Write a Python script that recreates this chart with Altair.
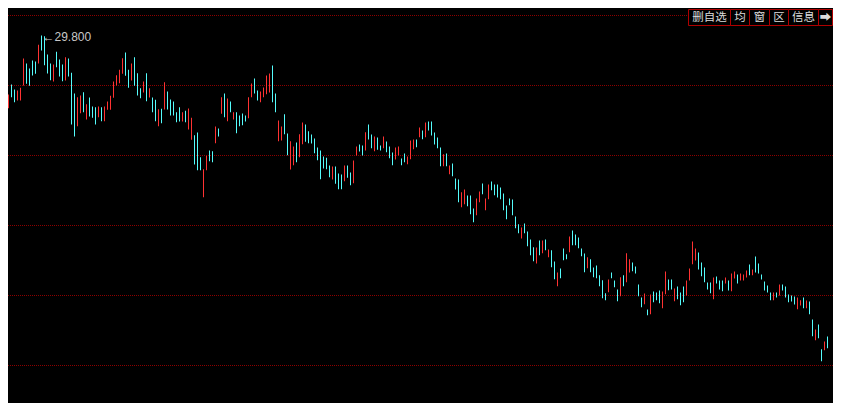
import altair as alt
import pandas as pd

# ---- candle data ----
high = [
    26.37, 26.51, 27.44, 27.84, 27.64, 27.60, 27.71, 28.88, 28.68, 28.48,
    28.80, 28.76, 29.43, 29.80, 29.77, 29.04, 28.68, 28.64, 29.15, 28.84,
    28.64, 28.93, 28.88, 28.31, 27.48, 27.33, 27.40, 27.53, 27.05, 27.32,
    26.96, 26.93, 26.96, 26.93, 26.96, 27.16, 27.39, 27.96, 28.21, 28.43,
    28.89, 29.12, 28.43, 28.68, 28.93, 28.29, 27.69, 27.96, 28.29, 27.69,
    27.32, 27.23, 26.85, 26.87, 27.93, 27.56, 27.24, 27.16, 26.73, 26.93,
    26.73, 26.79, 26.88, 26.51, 25.81, 25.92, 24.93, 24.45, 24.99, 25.20,
    25.17, 26.16, 26.08, 27.33, 27.48, 27.28, 27.16, 26.73, 26.73, 26.60,
    26.68, 26.60, 27.33, 27.88, 28.08, 27.60, 27.56, 27.72, 28.20, 28.28,
    28.60, 27.48, 26.40, 26.16, 26.65, 25.88, 25.57, 25.36, 25.52, 25.85,
    26.32, 26.24, 25.97, 25.84, 25.68, 25.32, 25.20, 24.96, 24.91, 24.60,
    24.56, 24.56, 24.28, 24.24, 24.60, 24.60, 24.32, 24.80, 25.36, 25.44,
    25.40, 25.93, 26.24, 25.84, 25.76, 25.72, 25.40, 25.76, 25.56, 25.36,
    25.12, 25.32, 25.36, 24.88, 25.08, 24.96, 25.60, 25.64, 25.64, 26.12,
    26.00, 26.32, 26.36, 26.36, 25.92, 25.72, 25.32, 25.05, 25.08, 24.60,
    24.68, 24.08, 24.04, 23.53, 23.64, 23.40, 23.40, 22.88, 23.28, 23.56,
    23.88, 23.28, 23.84, 23.96, 23.84, 23.84, 23.72, 23.48, 23.00, 23.28,
    23.24, 22.56, 22.25, 22.12, 22.28, 21.96, 21.64, 21.33, 21.32, 21.60,
    21.60, 21.64, 21.24, 21.21, 20.76, 20.32, 20.48, 21.28, 21.05, 21.76,
    22.00, 21.84, 21.72, 21.28, 21.08, 20.93, 20.85, 20.52, 20.60, 20.21,
    20.01, 19.49, 20.04, 20.32, 20.00, 19.64, 20.13, 20.21, 21.09, 20.85,
    20.72, 20.56, 19.84, 19.32, 19.48, 18.84, 19.44, 19.56, 19.52, 19.60,
    19.56, 20.36, 20.04, 20.04, 19.68, 19.76, 19.52, 19.76, 20.00, 20.48,
    21.56, 21.28, 21.12, 20.72, 20.52, 19.92, 19.92, 20.12, 20.16, 20.00,
    20.00, 20.12, 20.00, 20.28, 20.36, 20.24, 20.28, 20.24, 20.40, 20.64,
    20.44, 20.96, 20.68, 20.24, 19.96, 19.80, 19.52, 19.52, 19.52, 19.84,
    19.84, 19.76, 19.44, 19.40, 19.36, 19.32, 19.21, 19.32, 19.20, 19.16,
    18.44, 18.04, 18.24, 17.25, 17.56, 17.76,
]

low = [
    25.76, 25.69, 26.89, 27.33, 27.13, 27.20, 27.20, 27.80, 27.87, 27.79,
    28.20, 28.27, 28.68, 29.20, 28.61, 28.28, 28.01, 27.96, 28.53, 28.16,
    27.97, 28.00, 28.16, 26.24, 25.76, 26.17, 26.69, 26.73, 26.44, 26.56,
    26.51, 26.24, 26.53, 26.37, 26.37, 26.83, 26.83, 27.31, 27.80, 27.89,
    28.27, 28.19, 27.71, 28.00, 27.79, 27.40, 27.29, 27.52, 27.17, 27.32,
    26.73, 26.37, 26.17, 26.29, 26.84, 26.84, 26.60, 26.60, 26.33, 26.36,
    26.36, 26.33, 26.04, 25.63, 24.64, 24.41, 24.41, 23.33, 24.41, 24.77,
    24.73, 25.49, 25.76, 26.67, 26.53, 26.37, 26.73, 26.44, 25.89, 26.17,
    26.21, 26.36, 26.49, 27.33, 27.48, 27.20, 27.13, 27.33, 27.45, 27.52,
    27.13, 26.73, 25.57, 25.60, 25.85, 25.01, 24.44, 24.61, 24.73, 24.93,
    25.45, 25.55, 25.49, 25.48, 25.09, 24.81, 24.05, 24.48, 24.45, 24.13,
    24.04, 23.87, 23.65, 23.65, 23.97, 24.11, 23.81, 23.89, 25.00, 25.16,
    25.00, 25.20, 25.64, 25.29, 25.17, 25.23, 25.20, 25.29, 25.13, 24.89,
    24.61, 24.84, 25.00, 24.61, 24.73, 24.65, 24.85, 25.25, 25.33, 25.73,
    25.65, 25.73, 26.00, 25.80, 25.44, 25.29, 24.57, 24.57, 24.57, 24.25,
    24.17, 23.64, 23.13, 22.93, 23.05, 22.97, 22.65, 22.33, 22.61, 23.13,
    23.45, 22.81, 23.25, 23.61, 23.41, 23.32, 23.25, 22.81, 22.45, 23.01,
    22.61, 22.09, 21.89, 21.68, 21.89, 21.37, 21.01, 20.77, 20.68, 21.01,
    21.09, 21.21, 20.93, 20.53, 20.05, 19.77, 20.09, 20.81, 20.85, 21.13,
    21.41, 21.41, 21.29, 20.97, 20.33, 20.49, 20.33, 20.13, 20.09, 19.77,
    19.29, 19.21, 19.53, 20.09, 19.73, 19.17, 19.37, 19.77, 19.93, 20.32,
    20.37, 20.28, 19.37, 18.93, 19.05, 18.61, 18.65, 19.13, 19.21, 19.09,
    18.89, 19.45, 19.61, 19.64, 19.17, 19.25, 19.01, 19.13, 19.40, 20.00,
    20.65, 20.80, 20.44, 20.17, 19.93, 19.64, 19.49, 19.25, 19.88, 19.64,
    19.57, 19.88, 19.60, 19.57, 20.08, 19.88, 20.00, 20.00, 20.12, 20.21,
    20.21, 20.32, 20.28, 20.04, 19.60, 19.52, 19.21, 19.21, 19.32, 19.40,
    19.60, 19.32, 19.13, 19.16, 19.04, 18.85, 19.00, 18.89, 18.89, 18.65,
    17.77, 17.61, 17.69, 16.77, 17.21, 17.29,
]

# 1 = rising (red), 0 = falling (cyan)
rising = [
    0, 1, 1, 0, 0, 1, 1, 1, 0, 0,
    0, 0, 1, 0, 0, 0, 0, 1, 0, 0,
    0, 1, 0, 0, 0, 1, 1, 0, 1, 0,
    0, 0, 1, 0, 1, 1, 1, 1, 1, 1,
    1, 0, 0, 1, 0, 0, 0, 1, 0, 1,
    0, 0, 1, 0, 1, 0, 0, 0, 0, 0,
    1, 0, 1, 1, 0, 0, 0, 1, 1, 0,
    0, 1, 0, 1, 0, 1, 0, 1, 0, 0,
    0, 0, 1, 1, 0, 0, 1, 1, 1, 1,
    0, 0, 1, 1, 0, 0, 1, 1, 0, 1,
    1, 0, 0, 0, 0, 0, 0, 0, 0, 0,
    1, 0, 0, 0, 1, 0, 0, 1, 1, 0,
    0, 1, 0, 0, 1, 0, 0, 1, 0, 0,
    0, 1, 1, 0, 0, 1, 1, 1, 0, 1,
    0, 1, 0, 0, 0, 0, 0, 1, 0, 1,
    0, 0, 0, 1, 1, 0, 0, 0, 1, 1,
    0, 1, 1, 0, 0, 0, 0, 0, 0, 0,
    0, 0, 0, 1, 0, 0, 0, 0, 1, 0,
    1, 0, 1, 0, 0, 1, 0, 0, 0, 1,
    0, 0, 0, 0, 0, 1, 0, 0, 0, 0,
    0, 0, 1, 0, 0, 0, 1, 0, 1, 1,
    0, 0, 0, 0, 1, 0, 1, 0, 0, 0,
    1, 1, 0, 0, 1, 0, 0, 0, 1, 1,
    1, 1, 0, 0, 0, 0, 0, 1, 0, 0,
    0, 1, 0, 1, 1, 0, 1, 1, 1, 0,
    1, 0, 0, 0, 0, 0, 0, 1, 0, 1,
    0, 0, 0, 0, 0, 1, 1, 0, 1, 0,
    0, 1, 0, 0, 1, 0,
]

grid_levels = [30.6, 27.8, 25.0, 22.2, 19.4, 16.6]
button_labels = ["删自选", "均", "窗", "区", "信息", "➡"]
button_edges = [680, 722, 741, 761, 780, 810, 825]

W, H = 825, 395
n = min(len(high), len(low), len(rising))
df = pd.DataFrame({
    "i": list(range(n)),
    "high": high[:n],
    "low": low[:n],
    "dir": ["up" if r else "down" for r in rising[:n]],
})

xscale = alt.Scale(domain=[11 / 6, 11 / 6 + W / 3], nice=False, zero=False)
yscale = alt.Scale(domain=[15.1, 30.9], nice=False, zero=False)

grid = alt.Chart(pd.DataFrame({"level": grid_levels})).mark_rule(
    color="#8c0000", strokeWidth=1, strokeDash=[1, 1]
).encode(y=alt.Y("level:Q", scale=yscale, axis=None))

candles = alt.Chart(df).mark_rule(strokeWidth=1, clip=True).encode(
    x=alt.X("i:Q", scale=xscale, axis=None),
    y=alt.Y("high:Q", scale=yscale, axis=None),
    y2="low:Q",
    color=alt.Color("dir:N", scale=alt.Scale(domain=["up", "down"], range=["#ff3232", "#54fcfc"]), legend=None),
)

imax = max(range(n), key=lambda k: high[k])
lab_df = pd.DataFrame({"i": [imax], "high": [high[imax]], "text": [f"\u2190{high[imax]:.3f}"]})
label = alt.Chart(lab_df).mark_text(
    align="left", baseline="middle", dx=1, dy=1, fontSize=12,
    color="#c8c8c8", font="Liberation Sans"
).encode(
    x=alt.X("i:Q", scale=xscale, axis=None),
    y=alt.Y("high:Q", scale=yscale, axis=None),
    text="text:N",
)

btn_df = pd.DataFrame({
    "label": button_labels,
    "x0": [e + 0.5 for e in button_edges[:-1]],
    "x1": [e + 0.5 if k < len(button_edges) - 1 else e - 0.5 for k, e in enumerate(button_edges[1:], start=1)],
})
btn_df["xc"] = (btn_df["x0"] + btn_df["x1"]) / 2

btn_boxes = alt.Chart(btn_df).mark_rect(fill="black", stroke="#b00000", strokeWidth=1).encode(
    x=alt.X("x0:Q", scale=None), x2="x1:Q",
    y=alt.value(1.5), y2=alt.value(17.5),
)
btn_text = alt.Chart(btn_df).mark_text(
    fontSize=11.5, color="#dcdcdc", font="Noto Sans CJK SC", baseline="middle", align="center"
).encode(
    x=alt.X("xc:Q", scale=None), y=alt.value(9.5), text="label:N"
)

chart = alt.layer(grid, candles, label, btn_boxes, btn_text).properties(
    width=W, height=H, padding=0, autosize="none", background="black"
).configure_view(strokeWidth=0)

chart.save("out.html", embed_options={"renderer": "svg", "actions": False})
